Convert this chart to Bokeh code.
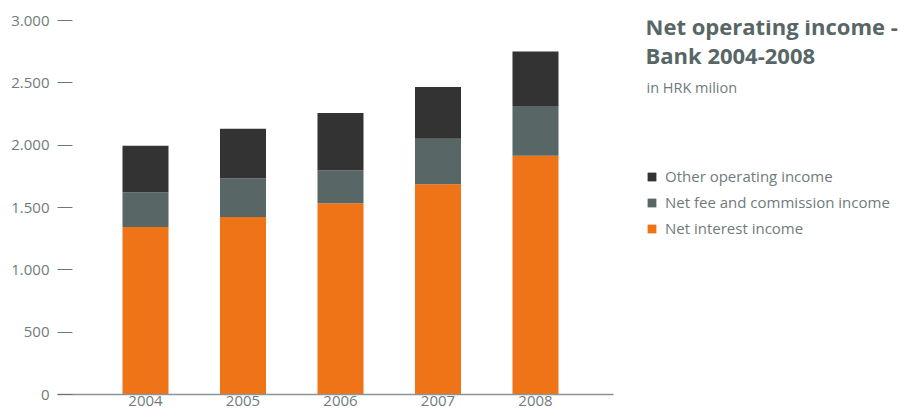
from bokeh.plotting import figure
from bokeh.models import ColumnDataSource, Range1d, FixedTicker, Legend, LegendItem, Label, CustomJSTickFormatter
from bokeh.embed import file_html
from bokeh.resources import INLINE

years = [2004, 2005, 2006, 2007, 2008]
net_interest = [1343, 1423, 1534, 1686, 1916]
net_fee = [279, 310, 263, 366, 399]
other_income = [374, 398, 462, 414, 437]
series_names = ["Net interest income", "Net fee and commission income", "Other operating income"]
y_ticks = [0, 500, 1000, 1500, 2000, 2500, 3000]

colors = ["#ef7418", "#586666", "#333333"]
FONT = "Open Sans"
TXT = "#6f7b7b"

src = ColumnDataSource(dict(year=years, interest=net_interest, fee=net_fee, other=other_income))

p = figure(width=901, height=408, output_backend="svg", toolbar_location=None,
           x_range=Range1d(2003.0974, 2011.754), y_range=Range1d(0, 3000),
           min_border_left=57, min_border_right=0, min_border_top=20, min_border_bottom=0)
p.outline_line_color = None
p.grid.visible = False
p.background_fill_color = "white"

rs = p.vbar_stack(["interest", "fee", "other"], x="year", width=0.472, source=src,
                  color=colors, line_width=0)

# y axis
p.yaxis.ticker = FixedTicker(ticks=y_ticks)
p.yaxis.formatter = CustomJSTickFormatter(code="return tick.toString().replace(/\\B(?=(\\d{3})+(?!\\d))/g, '.');")
p.yaxis.axis_line_color = None
p.yaxis.major_tick_in = 15
p.yaxis.major_tick_out = 0
p.yaxis.major_tick_line_color = "#6c7777"
p.yaxis.major_tick_line_width = 1
p.yaxis.minor_tick_line_color = None
p.yaxis.major_label_standoff = 8
p.yaxis.major_label_text_font = FONT
p.yaxis.major_label_text_font_size = "15px"
p.yaxis.major_label_text_color = TXT

# x axis
p.xaxis.ticker = FixedTicker(ticks=years)
p.xaxis.bounds = (2003.0974, 2008.8)
p.xaxis.formatter = CustomJSTickFormatter(code="return tick.toString();")
p.xaxis.axis_line_color = "#8a9494"
p.xaxis.axis_line_width = 1.5
p.xaxis.major_tick_line_color = None
p.xaxis.major_tick_out = 0
p.xaxis.major_tick_in = 0
p.xaxis.minor_tick_line_color = None
p.xaxis.major_label_standoff = 1
p.xaxis.major_label_text_font = FONT
p.xaxis.major_label_text_font_size = "15px"
p.xaxis.major_label_text_color = TXT

# title block
p.add_layout(Label(x=588, y=369, x_units="screen", y_units="screen", text="Net operating income -",
                   text_font=FONT, text_font_style="bold", text_font_size="22px",
                   text_color="#586666", text_baseline="alphabetic"))
p.add_layout(Label(x=588, y=340, x_units="screen", y_units="screen", text="Bank 2004-2008",
                   text_font=FONT, text_font_style="bold", text_font_size="22px",
                   text_color="#586666", text_baseline="alphabetic"))
p.add_layout(Label(x=589, y=307, x_units="screen", y_units="screen", text="in HRK milion",
                   text_font=FONT, text_font_size="14.5px",
                   text_color=TXT, text_baseline="alphabetic"))

legend = Legend(items=[LegendItem(label=series_names[i], renderers=[rs[i]]) for i in (2, 1, 0)],
                location=(589, 156), orientation="vertical",
                glyph_width=11, glyph_height=11, label_height=20, spacing=6,
                padding=0, margin=0, border_line_color=None, background_fill_alpha=0,
                label_text_font=FONT, label_text_font_size="15px", label_text_color=TXT,
                label_standoff=8)
p.add_layout(legend)

open("out.html", "w").write(file_html(p, INLINE))
